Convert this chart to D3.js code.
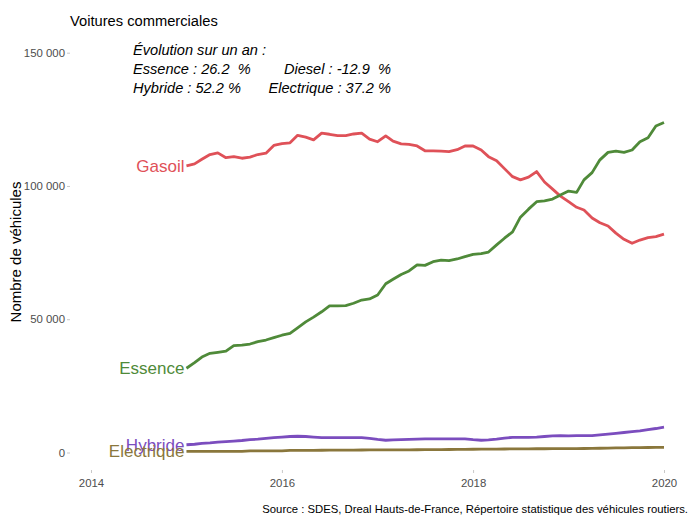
<!DOCTYPE html>
<html>
<head>
<meta charset="utf-8">
<script src="https://cdn.jsdelivr.net/npm/d3@7"></script>
<style>
  html, body { margin: 0; padding: 0; background: #fff; }
  svg { display: block; font-family: "Liberation Sans", Arial, sans-serif; }
</style>
</head>
<body>
<svg id="chart" width="692" height="517"></svg>
<script>
// ---- data ----
const months = d3.timeMonth.range(new Date(2015, 0, 1), new Date(2020, 1, 1)); // Jan 2015 .. Jan 2020
const seriesNames = ["Gasoil", "Essence", "Hybride", "Electrique"];
const seriesColors = ["#DF5158", "#4F8A39", "#7B4DBE", "#8A773C"];
const gasoil = [107500,108300,110000,111800,112400,110600,111000,110400,110800,111800,112300,115200,
  115900,116200,119000,118300,117300,119800,119400,118900,118900,119500,119800,117600,
  116600,118800,116800,115800,115600,115000,113200,113200,113100,112900,113600,115000,
  115000,113500,111000,109500,106500,103500,102300,103300,105400,101500,98800,96200,
  94100,92000,91000,88000,86200,85000,82300,80000,78500,79700,80600,81000,81900];
const essence = [31600,33700,35800,37200,37600,38000,40100,40300,40700,41600,42200,43100,
  44000,44700,46800,49000,50800,52800,55000,55000,55100,56000,57200,57600,
  59100,63300,65000,66800,68100,70400,70200,71600,72200,72000,72600,73500,
  74300,74600,75200,77900,80400,82800,88300,91300,94100,94400,95100,96600,
  98100,97600,102300,105000,109800,112600,113100,112600,113500,116600,118100,122500,123800];
const hybride = [2900,3100,3400,3600,3900,4100,4300,4500,4800,5000,5300,5600,
  5800,6000,6100,6000,5800,5600,5600,5600,5600,5600,5600,5300,
  4900,4600,4700,4800,4900,5000,5100,5100,5100,5100,5100,5100,
  4800,4600,4700,5000,5400,5700,5700,5700,5800,6000,6200,6300,
  6250,6300,6300,6300,6600,6900,7200,7500,7800,8100,8600,9000,9500];
const electrique = [450,450,450,450,450,450,450,450,600,600,600,600,
  600,800,800,800,820,840,860,880,900,920,940,960,
  980,1000,1000,1000,1020,1040,1060,1080,1100,1130,1160,1190,
  1220,1250,1280,1300,1320,1340,1360,1380,1400,1410,1420,1420,
  1420,1460,1500,1550,1600,1650,1700,1750,1800,1850,1880,1920,1950];
const allValues = [gasoil, essence, hybride, electrique];
const yTicks = [0, 50000, 100000, 150000];
const xTickYears = [2014, 2016, 2018, 2020];
const titleText = "Voitures commerciales";
const yTitle = "Nombre de véhicules";
const caption = "Source : SDES, Dreal Hauts-de-France, Répertoire statistique des véhicules routiers.";
const evoHeader = "Évolution sur un an :";
const evoLeft = ["Essence : 26.2  %", "Hybride : 52.2 %"];
const evoRight = ["Diesel : -12.9  %", "Electrique : 37.2 %"];

// ---- chart ----
const svg = d3.select("#chart");
const x = d3.scaleTime()
  .domain([new Date(2014, 0, 1), new Date(2020, 0, 1)])
  .range([91, 664]);
const y = d3.scaleLinear().domain([0, 150000]).range([452.5, 52.7]);
const locale = d3.formatLocale({decimal: ",", thousands: " ", grouping: [3], currency: ["", "€"]});
const fmt = locale.format(",d");

// y axis
const yAxis = d3.axisLeft(y).tickValues(yTicks).tickFormat(fmt).tickSize(3).tickPadding(2);
const gy = svg.append("g").attr("transform", "translate(70,0)").call(yAxis);
gy.select(".domain").remove();
gy.selectAll(".tick line").attr("stroke", "#c8c8c8");
gy.selectAll(".tick text").attr("fill", "#4d4d4d").style("font-size", "11.4px")
  .style("font-family", "'Liberation Sans', Arial, sans-serif");

// x axis
const xAxis = d3.axisBottom(x).tickValues(xTickYears.map(yr => new Date(yr, 0, 1)))
  .tickFormat(d3.timeFormat("%Y")).tickSize(3).tickPadding(6);
const gx = svg.append("g").attr("transform", "translate(0,470)").call(xAxis);
gx.select(".domain").remove();
gx.selectAll(".tick line").attr("stroke", "#c8c8c8");
gx.selectAll(".tick text").attr("fill", "#4d4d4d").style("font-size", "11.4px")
  .style("font-family", "'Liberation Sans', Arial, sans-serif");

// lines
const line = d3.line().x((d, i) => x(months[i])).y(d => y(d));
allValues.forEach((vals, k) => {
  svg.append("path").datum(vals)
    .attr("fill", "none")
    .attr("stroke", seriesColors[k])
    .attr("stroke-width", 2.8)
    .attr("stroke-linejoin", "round")
    .attr("d", line);
});

// direct labels
allValues.forEach((vals, k) => {
  svg.append("text")
    .attr("x", x(months[0]) - 2)
    .attr("y", y(vals[0]))
    .attr("dy", "0.35em")
    .attr("text-anchor", "end")
    .attr("fill", seriesColors[k])
    .style("font-size", "17px")
    .text(seriesNames[k]);
});

// title
svg.append("text").attr("x", 70).attr("y", 26).style("font-size", "14.7px").attr("fill", "#000").text(titleText);

// annotation
const ann = svg.append("g").style("font-style", "italic").style("font-size", "14.6px").attr("fill", "#000");
ann.append("text").attr("x", 133).attr("y", 55).style("white-space", "pre").text(evoHeader);
evoLeft.forEach((t, i) => ann.append("text").attr("x", 133).attr("y", 74 + i * 19).style("white-space", "pre").text(t));
evoRight.forEach((t, i) => ann.append("text").attr("x", 391).attr("y", 74 + i * 19).attr("text-anchor", "end").style("white-space", "pre").text(t));

// y title
svg.append("text")
  .attr("transform", "translate(21,252) rotate(-90)")
  .attr("text-anchor", "middle")
  .style("font-size", "15px")
  .attr("fill", "#000")
  .text(yTitle);

// caption
svg.append("text").attr("x", 688).attr("y", 513).attr("text-anchor", "end")
  .style("font-size", "11.3px").attr("fill", "#000").text(caption);
</script>
</body>
</html>
